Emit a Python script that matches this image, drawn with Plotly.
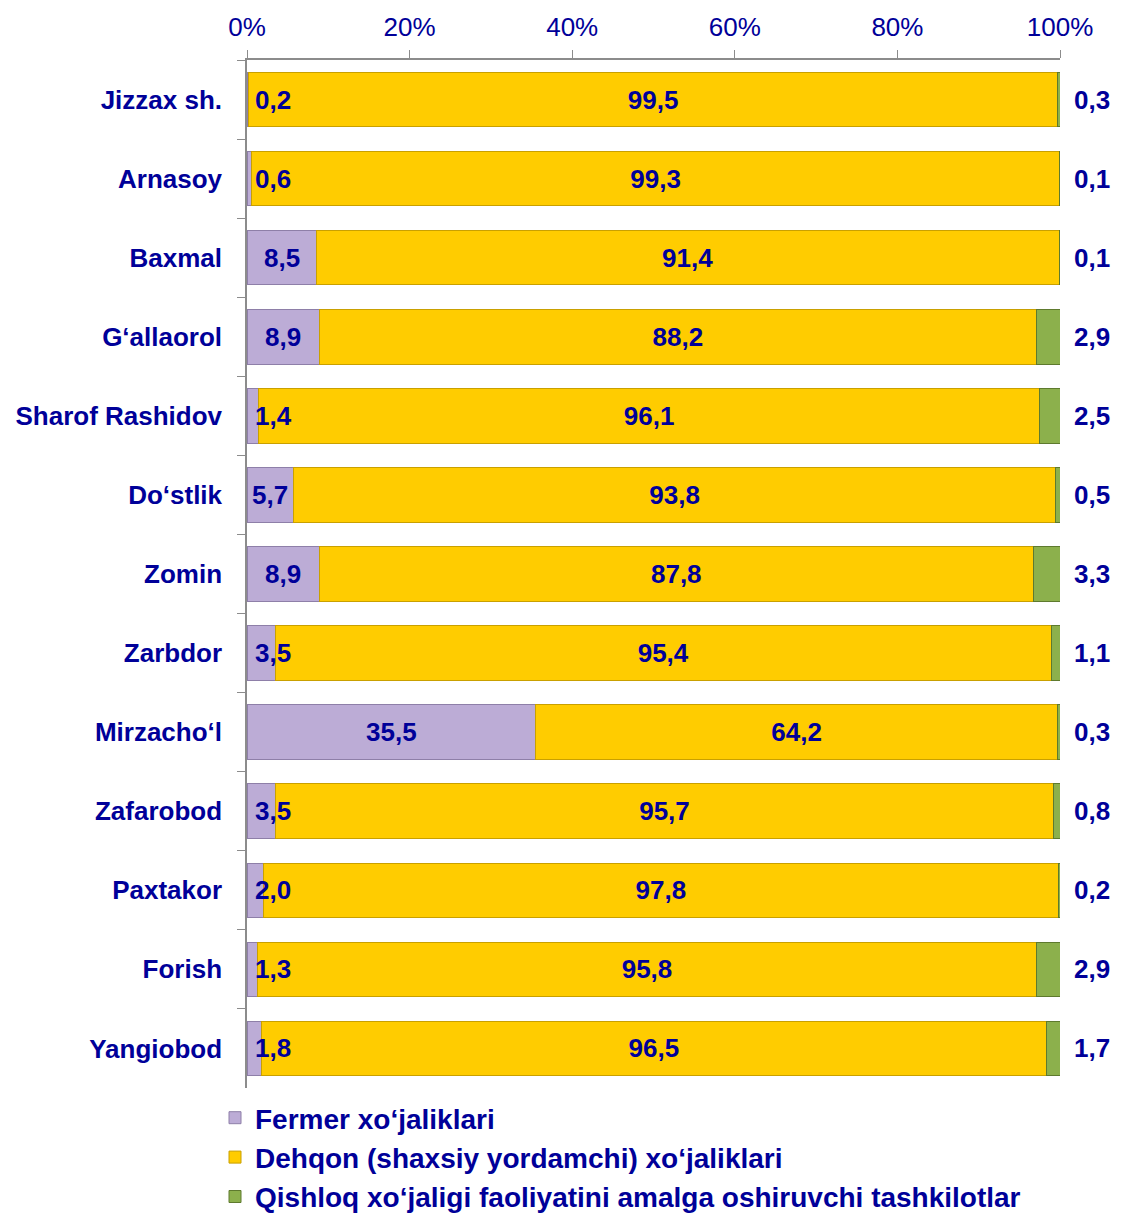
import plotly.graph_objects as go

categories = ["Jizzax sh.", "Arnasoy", "Baxmal", "G\u2018allaorol", "Sharof Rashidov",
              "Do\u2018stlik", "Zomin", "Zarbdor", "Mirzacho\u2018l", "Zafarobod",
              "Paxtakor", "Forish", "Yangiobod"]
fermer = [0.2, 0.6, 8.5, 8.9, 1.4, 5.7, 8.9, 3.5, 35.5, 3.5, 2.0, 1.3, 1.8]
dehqon = [99.5, 99.3, 91.4, 88.2, 96.1, 93.8, 87.8, 95.4, 64.2, 95.7, 97.8, 95.8, 96.5]
tashkilot = [0.3, 0.1, 0.1, 2.9, 2.5, 0.5, 3.3, 1.1, 0.3, 0.8, 0.2, 2.9, 1.7]
series_names = ["Fermer xo\u2018jaliklari",
                "Dehqon (shaxsiy yordamchi) xo\u2018jaliklari",
                "Qishloq xo\u2018jaligi faoliyatini amalga oshiruvchi tashkilotlar"]
x_ticks = [0, 20, 40, 60, 80, 100]
x_tick_labels = ["0%", "20%", "40%", "60%", "80%", "100%"]

TXT = "#000099"
FONT = "Liberation Sans"
FS = 26
PAGE_OFF = 8  # default body margin of the html page
W, H = 1123 - PAGE_OFF, 1217 - PAGE_OFF


def fmt(v):
    return f"{v:.1f}".replace(".", ",")


label_font = dict(family=FONT, size=FS, color=TXT, weight="bold")

fig = go.Figure()
fig.add_trace(go.Bar(
    y=categories, x=fermer, name=series_names[0], orientation="h", legendgroup="a",
    marker=dict(color="#BCACD6", line=dict(color="#8E7FA8", width=1)),
))
fig.add_trace(go.Bar(
    y=categories, x=dehqon, name=series_names[1], orientation="h", legendgroup="b",
    marker=dict(color="#FFCC00", line=dict(color="#C9A000", width=1)),
    text=[fmt(v) for v in dehqon], textposition="inside", insidetextanchor="middle",
    textfont=label_font, constraintext="none",
))
fig.add_trace(go.Bar(
    y=categories, x=tashkilot, name=series_names[2], orientation="h", legendgroup="c",
    marker=dict(color="#8CB04C", line=dict(color="#5E7A2E", width=1)),
))

annotations = []
for cat, v in zip(categories, fermer):
    if v >= 5:
        annotations.append(dict(x=v / 2, y=cat, xref="x", yref="y", text=fmt(v),
                                showarrow=False, xanchor="center", font=label_font))
    else:
        annotations.append(dict(x=0, y=cat, xref="x", yref="y", text=fmt(v),
                                showarrow=False, xanchor="left", xshift=6, font=label_font))
for cat, t in zip(categories, tashkilot):
    annotations.append(dict(x=1, y=cat, xref="paper", yref="y", text=fmt(t),
                            showarrow=False, xanchor="left", xshift=12, font=label_font))

fig.update_layout(
    width=W, height=H,
    barmode="stack", bargap=0.31,
    plot_bgcolor="white", paper_bgcolor="white",
    margin=dict(l=247 - PAGE_OFF, r=63, t=60 - PAGE_OFF, b=129, autoexpand=False),
    font=dict(family=FONT, size=FS, color=TXT),
    annotations=annotations,
    showlegend=True,
    legend=dict(orientation="v", xref="container", yref="container",
                x=(215 - PAGE_OFF) / W, xanchor="left",
                y=1 - (1093 - PAGE_OFF) / H, yanchor="top",
                font=dict(family=FONT, size=28, color=TXT, weight="bold"),
                traceorder="grouped", tracegroupgap=0, bgcolor="rgba(0,0,0,0)"),
    xaxis=dict(side="top", range=[0, 100], tickvals=x_ticks, ticktext=x_tick_labels,
               showgrid=False, zeroline=False, showline=True, linecolor="#8C8C8C",
               linewidth=1.5, ticks="outside", ticklen=8, tickcolor="#8C8C8C",
               ticklabelstandoff=4, automargin=False,
               tickfont=dict(family=FONT, size=FS, color=TXT)),
    yaxis=dict(autorange="reversed", showgrid=False, zeroline=False, showline=True,
               linecolor="#8C8C8C", linewidth=1.5, ticks="outside", ticklen=8,
               tickcolor="#8C8C8C", tickson="boundaries", ticklabelstandoff=18,
               automargin=False,
               tickfont=dict(family=FONT, size=FS, color=TXT, weight="bold")),
)

fig.write_html("out.html")
